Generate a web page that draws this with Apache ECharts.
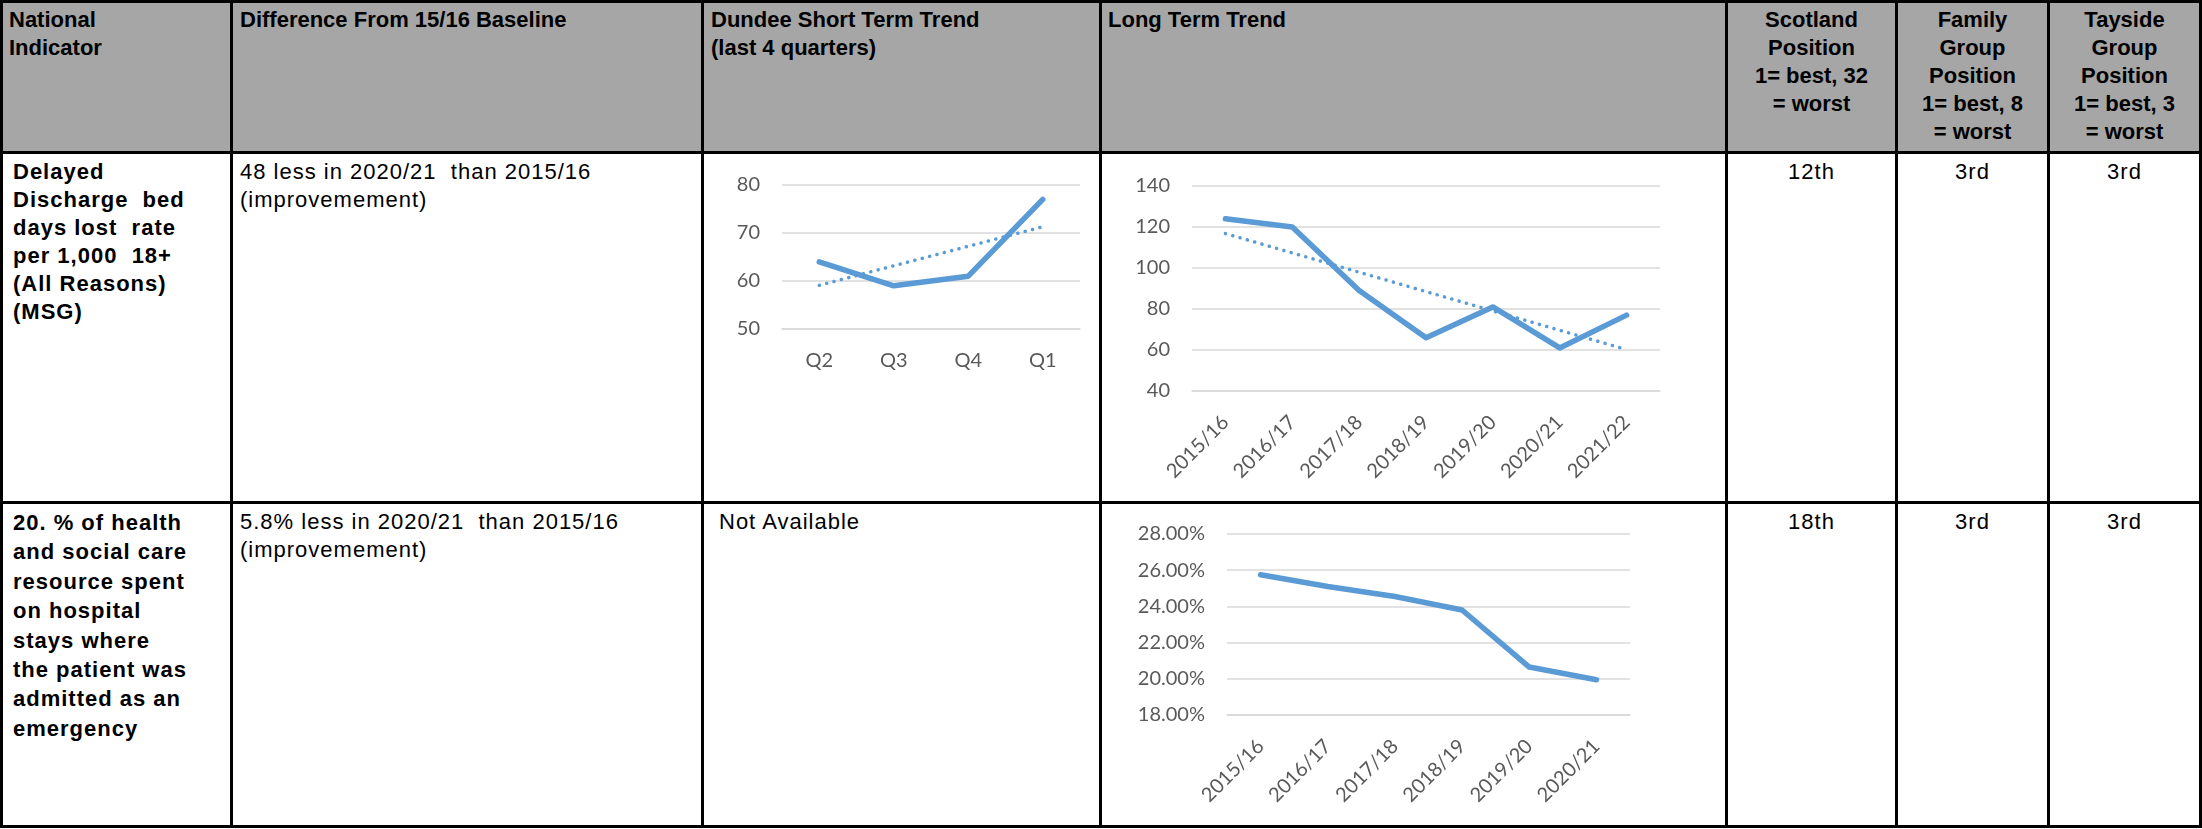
<!DOCTYPE html>
<html lang="en">
<head>
<meta charset="UTF-8">
<title>National Indicators - Dundee</title>
<script src="https://cdn.jsdelivr.net/npm/echarts@6/dist/echarts.min.js"></script>
<style>
    body { margin: 0; background: #fff; }
    #page { position: relative; width: 2202px; height: 829px; font-family: "Liberation Sans", Arial, sans-serif; color: #000; }
    .cell { position: absolute; box-sizing: border-box; font-size: 22px; line-height: 28px; white-space: nowrap; letter-spacing: 1px; }
    .hd { font-weight: bold; padding-top: 6px; letter-spacing: 0; }
    .b { font-weight: bold; }
    .c { text-align: center; }
    .ln { position: absolute; background: #000; }
    #chart { position: absolute; left: 0; top: 0; width: 2202px; height: 829px; }
</style>
</head>
<body>
<div id="page">
    <!-- header fill -->
    <div style="position:absolute;left:0;top:0;width:2200px;height:153px;background:#a6a6a6;"></div>

    <!-- header -->
    <div class="cell hd" style="left:9px;top:0;">National<br>Indicator</div>
    <div class="cell hd" style="left:240px;top:0;">Difference From 15/16 Baseline</div>
    <div class="cell hd" style="left:711px;top:0;">Dundee Short Term Trend<br>(last 4 quarters)</div>
    <div class="cell hd" style="left:1108px;top:0;">Long Term Trend</div>
    <div class="cell hd c" style="left:1727px;top:0;width:169px;">Scotland<br>Position<br>1= best, 32<br>= worst</div>
    <div class="cell hd c" style="left:1897px;top:0;width:151px;">Family<br>Group<br>Position<br>1= best, 8<br>= worst</div>
    <div class="cell hd c" style="left:2049px;top:0;width:151px;">Tayside<br>Group<br>Position<br>1= best, 3<br>= worst</div>

    <!-- row 1 -->
    <div class="cell b" style="left:13px;top:158px;">Delayed<br>Discharge&nbsp; bed<br>days lost&nbsp; rate<br>per 1,000&nbsp; 18+<br>(All Reasons)<br>(MSG)</div>
    <div class="cell" style="left:240px;top:158px;">48 less in 2020/21&nbsp; than 2015/16<br>(improvemement)</div>
    <div class="cell c" style="left:1727px;top:158px;width:169px;">12th</div>
    <div class="cell c" style="left:1897px;top:158px;width:151px;">3rd</div>
    <div class="cell c" style="left:2049px;top:158px;width:151px;">3rd</div>

    <!-- row 2 -->
    <div class="cell b" style="left:13px;top:508px;line-height:29.4px;">20. % of health<br>and social care<br>resource spent<br>on hospital<br>stays where<br>the patient was<br>admitted as an<br>emergency</div>
    <div class="cell" style="left:240px;top:508px;">5.8% less in 2020/21&nbsp; than 2015/16<br>(improvemement)</div>
    <div class="cell" style="left:719px;top:508px;">Not Available</div>
    <div class="cell c" style="left:1727px;top:508px;width:169px;">18th</div>
    <div class="cell c" style="left:1897px;top:508px;width:151px;">3rd</div>
    <div class="cell c" style="left:2049px;top:508px;width:151px;">3rd</div>

    <!-- table rules -->
    <div class="ln" style="left:0;top:0;width:2202px;height:3px;"></div>
    <div class="ln" style="left:0;top:151px;width:2202px;height:3px;"></div>
    <div class="ln" style="left:0;top:501px;width:2202px;height:3px;"></div>
    <div class="ln" style="left:0;top:825px;width:2202px;height:3px;"></div>
    <div class="ln" style="left:0;top:0;width:3px;height:828px;"></div>
    <div class="ln" style="left:230px;top:0;width:3px;height:828px;"></div>
    <div class="ln" style="left:701px;top:0;width:3px;height:828px;"></div>
    <div class="ln" style="left:1099px;top:0;width:3px;height:828px;"></div>
    <div class="ln" style="left:1725px;top:0;width:3px;height:828px;"></div>
    <div class="ln" style="left:1895px;top:0;width:3px;height:828px;"></div>
    <div class="ln" style="left:2047px;top:0;width:3px;height:828px;"></div>
    <div class="ln" style="left:2199px;top:0;width:3px;height:828px;"></div>

    <div id="chart"></div>
</div>

<script>
// short term (last 4 quarters)
var shortQuarters = ['Q2', 'Q3', 'Q4', 'Q1'];
var shortValues = [64, 59, 61, 77];
var shortTrend = [59.1, 71.3];          // dotted trend, first and last quarter
var shortTicks = [50, 60, 70, 80];

// long term - delayed discharge
var dischargeYears = ['2015/16', '2016/17', '2017/18', '2018/19', '2019/20', '2020/21', '2021/22'];
var dischargeValues = [124, 120, 89, 66, 81, 61, 77];
var dischargeTrend = [116.8, 60.2];
var dischargeTicks = [40, 60, 80, 100, 120, 140];

// long term - % spent on emergency stays
var emergencyYears = ['2015/16', '2016/17', '2017/18', '2018/19', '2019/20', '2020/21'];
var emergencyValues = [25.75, 25.1, 24.55, 23.8, 20.65, 19.95];
var emergencyTicks = [18, 20, 22, 24, 26, 28];

var blue = '#5b9bd5';
var labelFont = { color: '#595959', fontSize: 20, fontFamily: 'Lato' };

function yAxisFor(gridIndex, ticks, fmt) {
    return {
        type: 'value',
        gridIndex: gridIndex,
        min: ticks[0],
        max: ticks[ticks.length - 1],
        interval: ticks[1] - ticks[0],
        axisLine: { show: false },
        axisTick: { show: false },
        axisLabel: Object.assign({ margin: 22, formatter: fmt }, labelFont),
        splitLine: { lineStyle: { color: '#d9d9d9', width: 1.5 } }
    };
}

function xAxisFor(gridIndex, cats, rotate, margin) {
    return {
        type: 'category',
        gridIndex: gridIndex,
        data: cats,
        boundaryGap: true,
        axisLine: { lineStyle: { color: '#d9d9d9', width: 1.5 } },
        axisTick: { show: false },
        axisLabel: Object.assign({ interval: 0, rotate: rotate, margin: margin }, labelFont)
    };
}

function mainLine(idx, data) {
    return {
        type: 'line',
        xAxisIndex: idx,
        yAxisIndex: idx,
        data: data,
        symbol: 'none',
        lineStyle: { color: blue, width: 5.5, cap: 'round', join: 'round' },
        silent: true
    };
}

function trendLine(idx, cats, ends) {
    return {
        type: 'line',
        xAxisIndex: idx,
        yAxisIndex: idx,
        data: [[cats[0], ends[0]], [cats[cats.length - 1], ends[1]]],
        symbol: 'none',
        lineStyle: { color: blue, width: 3.5, type: [0.1, 7.5], cap: 'round' },
        silent: true
    };
}

var myChart = echarts.init(document.getElementById('chart'), null, { renderer: 'canvas' });

var option = {
    animation: false,
    grid: [
        { left: 782, top: 185, width: 298, height: 144 },
        { left: 1192, top: 186, width: 468, height: 205 },
        { left: 1227, top: 534, width: 403, height: 181 }
    ],
    xAxis: [
        xAxisFor(0, shortQuarters, 0, 22),
        xAxisFor(1, dischargeYears, 45, 28),
        xAxisFor(2, emergencyYears, 45, 28)
    ],
    yAxis: [
        yAxisFor(0, shortTicks),
        yAxisFor(1, dischargeTicks),
        yAxisFor(2, emergencyTicks, function (v) { return v.toFixed(2) + '%'; })
    ],
    series: [
        mainLine(0, shortValues),
        trendLine(0, shortQuarters, shortTrend),
        mainLine(1, dischargeValues),
        trendLine(1, dischargeYears, dischargeTrend),
        mainLine(2, emergencyValues)
    ]
};

myChart.setOption(option);
</script>
</body>
</html>
